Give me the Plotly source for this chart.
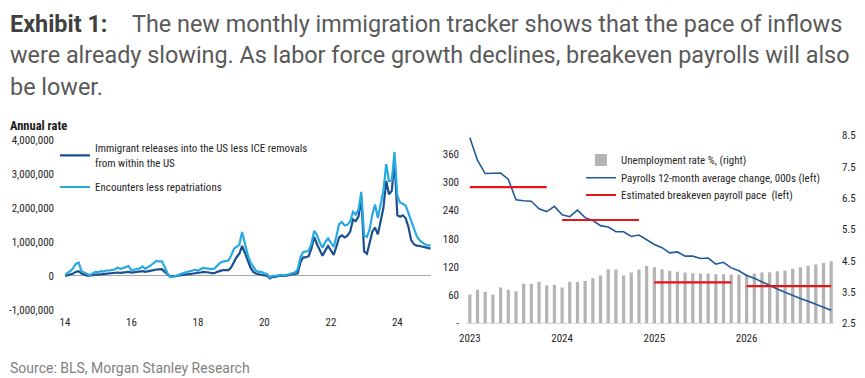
import plotly.graph_objects as go
import pandas as pd

# ---------------- Left panel data (millions, annual rate) ----------------
left_dates = pd.date_range("2014-01-01", periods=133, freq="MS")

releases_less_removals = [
    0.00, 0.02, 0.04, 0.07, 0.12, 0.14, 0.07, 0.03, 0.01, 0.01, 0.03, 0.04,
    0.04, 0.05, 0.06, 0.07, 0.07, 0.08, 0.09, 0.10, 0.09, 0.10, 0.11, 0.12,
    0.10, 0.11, 0.12, 0.13, 0.14, 0.12, 0.13, 0.15, 0.17, 0.19, 0.19, 0.20,
    0.12, 0.04, -0.01, -0.01, 0.00, 0.01, 0.02, 0.03, 0.04, 0.05, 0.06, 0.07,
    0.07, 0.10, 0.12, 0.12, 0.10, 0.08, 0.08, 0.12, 0.15, 0.17, 0.17, 0.17,
    0.25, 0.40, 0.55, 0.65, 0.88, 0.68, 0.45, 0.25, 0.12, 0.07, 0.05, 0.04,
    0.02, 0.00, -0.07, -0.03, -0.03, 0.00, 0.00, 0.00, 0.01, 0.03, 0.05, 0.08,
    0.08, 0.40, 0.54, 0.55, 0.58, 0.80, 1.15, 0.93, 0.75, 0.59, 0.75, 0.88,
    0.75, 0.62, 0.85, 1.13, 1.19, 1.13, 1.18, 1.30, 1.66, 1.61, 1.75, 2.30,
    0.72, 0.65, 0.95, 1.30, 1.42, 1.22, 1.60, 2.00, 2.79, 2.40, 2.50, 3.38,
    1.78, 1.74, 1.78, 1.70, 1.45, 1.05, 0.93, 0.89, 0.88, 0.86, 0.84, 0.81,
    0.80,
]

encounters_less_repatriations = [
    0.02, 0.10, 0.14, 0.23, 0.36, 0.39, 0.14, 0.09, 0.06, 0.02, 0.07, 0.12,
    0.11, 0.14, 0.13, 0.16, 0.16, 0.18, 0.19, 0.24, 0.21, 0.23, 0.26, 0.29,
    0.16, 0.19, 0.21, 0.22, 0.28, 0.21, 0.25, 0.31, 0.38, 0.44, 0.43, 0.43,
    0.26, 0.07, -0.03, -0.03, 0.00, 0.02, 0.06, 0.09, 0.11, 0.13, 0.16, 0.18,
    0.15, 0.20, 0.24, 0.22, 0.20, 0.20, 0.22, 0.30, 0.38, 0.42, 0.43, 0.45,
    0.60, 0.80, 0.85, 0.92, 1.29, 0.95, 0.63, 0.40, 0.25, 0.15, 0.12, 0.12,
    0.08, 0.05, -0.05, 0.00, 0.00, 0.02, 0.03, 0.02, 0.03, 0.05, 0.08, 0.10,
    0.20, 0.55, 0.70, 0.71, 0.74, 0.95, 1.32, 1.20, 0.98, 0.83, 1.00, 1.10,
    0.98, 0.85, 1.15, 1.52, 1.58, 1.48, 1.50, 1.60, 1.88, 1.80, 1.95, 2.47,
    1.20, 1.15, 1.35, 1.80, 2.10, 1.70, 2.10, 2.50, 3.28, 2.79, 2.80, 3.64,
    2.35, 2.15, 2.12, 2.07, 1.85, 1.60, 1.35, 1.17, 1.05, 0.98, 0.92, 0.90,
    0.90,
]

left_tickvals = [-1, 0, 1, 2, 3, 4]
left_ticktext = ["-1,000,000", "0", "1,000,000", "2,000,000", "3,000,000", "4,000,000"]

# ---------------- Right panel data ----------------
right_months = [f"{y}-{m:02d}" for y in range(2023, 2027) for m in range(1, 13)]
right_tickvals = ["2023-01", "2024-01", "2025-01", "2026-01"]
right_ticktext = ["2023", "2024", "2025", "2026"]

unemployment_rate = [
    3.42, 3.57, 3.51, 3.41, 3.64, 3.57, 3.52, 3.76, 3.76, 3.83, 3.71, 3.73,
    3.64, 3.83, 3.82, 3.85, 3.94, 4.03, 4.23, 4.22, 4.03, 4.12, 4.22, 4.33,
    4.29, 4.23, 4.18, 4.15, 4.12, 4.10, 4.09, 4.09, 4.07, 4.07, 4.06, 4.05,
    4.07, 4.09, 4.12, 4.13, 4.16, 4.19, 4.24, 4.29, 4.34, 4.38, 4.43, 4.48,
]

payrolls_12m_avg = [
    395, 347, 319, 320, 320, 307, 263, 261, 260, 244, 238, 249,
    231, 227, 241, 225, 219, 208, 205, 195, 195, 185, 188, 178,
    168, 161, 150, 152, 143, 143, 138, 139, 126, 130, 118, 112,
    102, 96, 88, 80, 73, 66, 59, 53, 47, 41, 35, 28,
]

breakeven_pace = (
    [290] * 11 + [None] + [220] * 11 + [None] + [87] * 11 + [None] + [79] * 12
)

payroll_tickvals = [0, 60, 120, 180, 240, 300, 360]
payroll_ticktext = ["-", "60", "120", "180", "240", "300", "360"]
unemp_tickvals = [2.5, 3.5, 4.5, 5.5, 6.5, 7.5, 8.5]

# ---------------- Figure ----------------
# The page body adds an 8px margin, so the figure is 8px smaller and
# all positions below are given in window pixels, then offset.
OFF = 8
W, H = 865 - OFF, 378 - OFF
FONT = "Roboto, 'Liberation Sans', Arial, sans-serif"
NARROW = "'Liberation Sans Narrow', 'Roboto Condensed', 'DejaVu Sans Condensed', Roboto, sans-serif"
TICKC = "#262626"


def px_x(p):
    return (p - OFF) / W


def px_y(p):
    return 1 - (p - OFF) / H


fig = go.Figure()

fig.add_trace(go.Scatter(
    x=left_dates, y=releases_less_removals, mode="lines",
    name="Immigrant releases into the US less ICE removals<br>from within the US",
    line=dict(color="#1a4f8f", width=2.2),
    xaxis="x", yaxis="y", legend="legend",
))
fig.add_trace(go.Scatter(
    x=left_dates, y=encounters_less_repatriations, mode="lines",
    name="Encounters less repatriations",
    line=dict(color="#27a9e1", width=2.2),
    xaxis="x", yaxis="y", legend="legend2",
))

fig.add_trace(go.Bar(
    x=right_months, y=unemployment_rate, name="Unemployment rate %, (right)",
    marker=dict(color="#b4b4b4", line=dict(width=0)), width=0.42,
    xaxis="x2", yaxis="y2", legend="legend3",
))
fig.add_trace(go.Scatter(
    x=right_months, y=payrolls_12m_avg, mode="lines",
    name="Payrolls 12-month average change, 000s (left)",
    line=dict(color="#1f5a9e", width=1.6),
    xaxis="x2", yaxis="y3", legend="legend4",
))
fig.add_trace(go.Scatter(
    x=right_months, y=breakeven_pace, mode="lines",
    name="Estimated breakeven payroll pace  (left)",
    line=dict(color="#e8141b", width=2.2), connectgaps=False,
    xaxis="x2", yaxis="y3", legend="legend5",
))

tickfont = dict(family=NARROW, size=11, color=TICKC)
legfont = dict(family=NARROW, size=11, color=TICKC)


def leg(xpx, ypx):
    return dict(
        x=px_x(xpx), y=px_y(ypx), xanchor="left", yanchor="middle",
        bgcolor="rgba(0,0,0,0)", font=legfont, itemwidth=30,
        borderwidth=0,
    )


fig.update_layout(
    width=W, height=H,
    margin=dict(l=0, r=0, t=0, b=0, autoexpand=False),
    paper_bgcolor="white", plot_bgcolor="white",
    font=dict(family=FONT, size=11, color=TICKC),
    xaxis=dict(
        domain=[px_x(65), px_x(431)], type="date",
        range=["2014-01-01", "2025-01-05"],
        tick0="2014-01-01", dtick="M24", tickformat="%y",
        showgrid=False, showline=False, ticks="", zeroline=False,
        tickfont=tickfont, anchor="y", automargin=False, ticklabelstandoff=4,
    ),
    yaxis=dict(
        domain=[px_y(310), px_y(139.7)], range=[-1, 4],
        tickvals=left_tickvals, ticktext=left_ticktext,
        showgrid=False, showline=False, ticks="",
        zeroline=True, zerolinecolor="#a6a6a6", zerolinewidth=1,
        tickfont=tickfont, anchor="x", ticklabelstandoff=10, automargin=False,
    ),
    xaxis2=dict(
        domain=[px_x(466), px_x(835)], type="category",
        categoryorder="array", categoryarray=right_months,
        range=[-0.5, 47.5],
        tickvals=right_tickvals, ticktext=right_ticktext,
        showgrid=False, showline=True, linecolor="#d9d9d9", linewidth=1,
        ticks="", tickfont=tickfont, anchor="y2", automargin=False,
        ticklabelstandoff=4,
    ),
    yaxis2=dict(
        domain=[px_y(323.3), px_y(135.5)], range=[2.5, 8.5],
        tickvals=unemp_tickvals, tickformat=".1f",
        side="right", showgrid=False, showline=False, ticks="",
        zeroline=False, tickfont=tickfont, anchor="x2", ticklabelstandoff=6,
        automargin=False,
    ),
    yaxis3=dict(
        domain=[px_y(323.3), px_y(135.5)], range=[0, 400],
        tickvals=payroll_tickvals, ticktext=payroll_ticktext,
        overlaying="y2", side="left", showgrid=False, showline=False,
        ticks="", zeroline=False, tickfont=tickfont, anchor="x2",
        ticklabelstandoff=6, automargin=False,
    ),
    legend=leg(55, 155.5),
    legend2=leg(55, 187),
    legend3=leg(581, 160),
    legend4=leg(581, 177.7),
    legend5=leg(581, 195),
    showlegend=True,
)

TS = 23.4
annotations = [
    dict(text="<b>Exhibit 1:</b>", x=px_x(8), y=px_y(24), xref="paper", yref="paper",
         xanchor="left", yanchor="middle", showarrow=False,
         font=dict(family=FONT, size=TS, color="#404040")),
    dict(text="The new monthly immigration tracker shows that the pace of inflows",
         x=px_x(130), y=px_y(24), xref="paper", yref="paper",
         xanchor="left", yanchor="middle", showarrow=False,
         font=dict(family=FONT, size=TS, color="#595959")),
    dict(text="were already slowing. As labor force growth declines, breakeven payrolls will also",
         x=px_x(8), y=px_y(55), xref="paper", yref="paper",
         xanchor="left", yanchor="middle", showarrow=False,
         font=dict(family=FONT, size=TS, color="#595959")),
    dict(text="be lower.",
         x=px_x(8), y=px_y(87), xref="paper", yref="paper",
         xanchor="left", yanchor="middle", showarrow=False,
         font=dict(family=FONT, size=TS, color="#595959")),
    dict(text="<b>Annual rate</b>", x=px_x(8), y=px_y(125), xref="paper", yref="paper",
         xanchor="left", yanchor="middle", showarrow=False,
         font=dict(family=NARROW, size=12.5, color="#1a1a1a")),
    dict(text="Source: BLS, Morgan Stanley Research", x=px_x(8), y=px_y(368),
         xref="paper", yref="paper", xanchor="left", yanchor="middle", showarrow=False,
         font=dict(family=FONT, size=14, color="#7f7f7f")),
]
fig.update_layout(annotations=annotations)

fig.write_html("out.html")
